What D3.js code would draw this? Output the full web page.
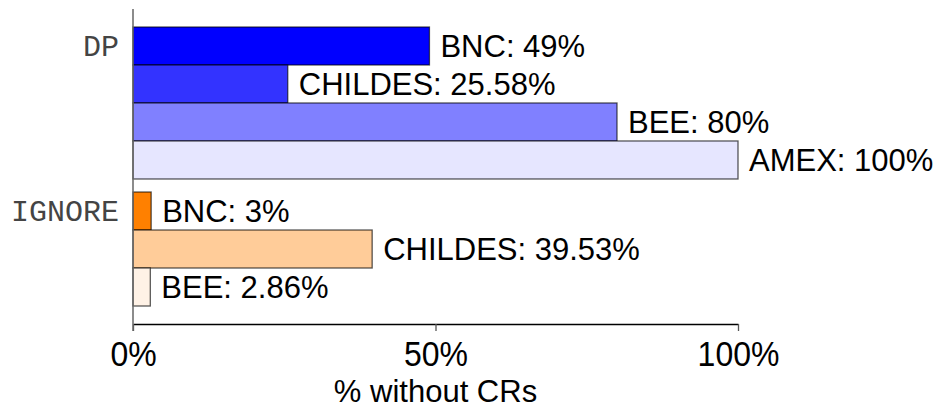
<!DOCTYPE html>
<html>
<head>
<meta charset="utf-8">
<script src="https://cdn.jsdelivr.net/npm/d3@7"></script>
<style>
  body { margin: 0; background: #fff; }
  .etiqueta { font-family: 'Liberation Sans', Arial, sans-serif; font-size: 31px; fill: #000; }
  .grupo { font-family: 'Liberation Mono', 'Courier New', monospace; font-size: 30px; fill: #444; }
  .eje text { font-family: 'Liberation Sans', Arial, sans-serif; font-size: 32px; fill: #000; }
</style>
</head>
<body>
<div id="graf"></div>
<script>
// datos
var grupos = ['DP', 'IGNORE']
var corpus = ['BNC', 'CHILDES', 'BEE', 'AMEX']
var valoresDP = [49, 25.58, 80, 100]
var valoresIGNORE = [3, 39.53, 2.86]
var coloresDP = ['#0000ff', '#3333ff', '#8080ff', '#e6e6ff']
var coloresIGNORE = ['#ff8000', '#ffcc99', '#fff2e6']
var marcas = [0, 50, 100]
var tituloX = '% without CRs'

var series = { DP: valoresDP, IGNORE: valoresIGNORE }
var colores = { DP: coloresDP, IGNORE: coloresIGNORE }

// Configuracion de margenes y altura
var ancho_total = 941
var alto_total = 408
var margins = { top: 27, left: 133, right: 203, bottom: 64 }

var svg = d3.select('#graf').append('svg')
  .attr('width', ancho_total)
  .attr('height', alto_total)

// escalas
var x = d3.scaleLinear()
  .domain([0, 100])
  .range([margins.left, ancho_total - margins.right])

var yGrupo = d3.scaleBand()
  .domain(grupos)
  .range([margins.top, alto_total - margins.bottom])
  .paddingInner(0.079)

var yCorpus = d3.scaleBand()
  .domain(corpus)
  .range([0, yGrupo.bandwidth()])

var ejeY = 324

// datos planos para las barras
var datos = []
grupos.forEach(g => {
  series[g].forEach((v, i) => {
    datos.push({ grupo: g, corpus: corpus[i], valor: v, color: colores[g][i] })
  })
})

// barras
svg.append('g').selectAll('rect')
  .data(datos)
  .enter()
  .append('rect')
    .attr('x', x(0))
    .attr('y', d => yGrupo(d.grupo) + yCorpus(d.corpus))
    .attr('width', d => x(d.valor) - x(0))
    .attr('height', yCorpus.bandwidth())
    .attr('fill', d => d.color)
    .attr('stroke', '#000')
    .attr('stroke-opacity', 0.65)
    .attr('stroke-width', 1.3)

// etiquetas de valor
svg.append('g').selectAll('text')
  .data(datos)
  .enter()
  .append('text')
    .attr('class', 'etiqueta')
    .attr('x', d => x(d.valor) + 11)
    .attr('y', d => yGrupo(d.grupo) + yCorpus(d.corpus) + yCorpus.bandwidth() / 2)
    .attr('dy', '0.36em')
    .text(d => `${d.corpus}: ${d.valor}%`)

// eje x
var xAxisCall = d3.axisBottom(x)
  .tickValues(marcas)
  .tickFormat(d => d + '%')
  .tickSize(7)
  .tickSizeOuter(0)

var xAxisGroup = svg.append('g')
  .attr('class', 'eje')
  .attr('transform', `translate(0, ${ejeY})`)
  .call(xAxisCall)

xAxisGroup.select('.domain').attr('stroke', '#000').attr('stroke-width', 1.5)
xAxisGroup.selectAll('.tick line').attr('stroke', '#555').attr('stroke-width', 1.3)
xAxisGroup.selectAll('.tick text')
  .attr('y', 42)
  .attr('dy', 0)
  .attr('transform', 'scale(1,1.08)')
  .attr('transform-origin', '0 42')

// titulo eje x
svg.append('text')
  .attr('class', 'etiqueta')
  .attr('x', x(50))
  .attr('y', 402)
  .attr('text-anchor', 'middle')
  .text(tituloX)

// eje y (linea vertical)
svg.append('line')
  .attr('x1', x(0)).attr('x2', x(0))
  .attr('y1', 9).attr('y2', ejeY + 7)
  .attr('stroke', '#666')
  .attr('stroke-width', 1.5)

// etiquetas de grupo
svg.append('g').selectAll('text')
  .data(grupos)
  .enter()
  .append('text')
    .attr('class', 'grupo')
    .attr('x', x(0) - 14)
    .attr('y', d => yGrupo(d) + yCorpus(corpus[0]) + yCorpus.bandwidth() / 2)
    .attr('dy', '0.32em')
    .attr('text-anchor', 'end')
    .text(d => d)
</script>
</body>
</html>
